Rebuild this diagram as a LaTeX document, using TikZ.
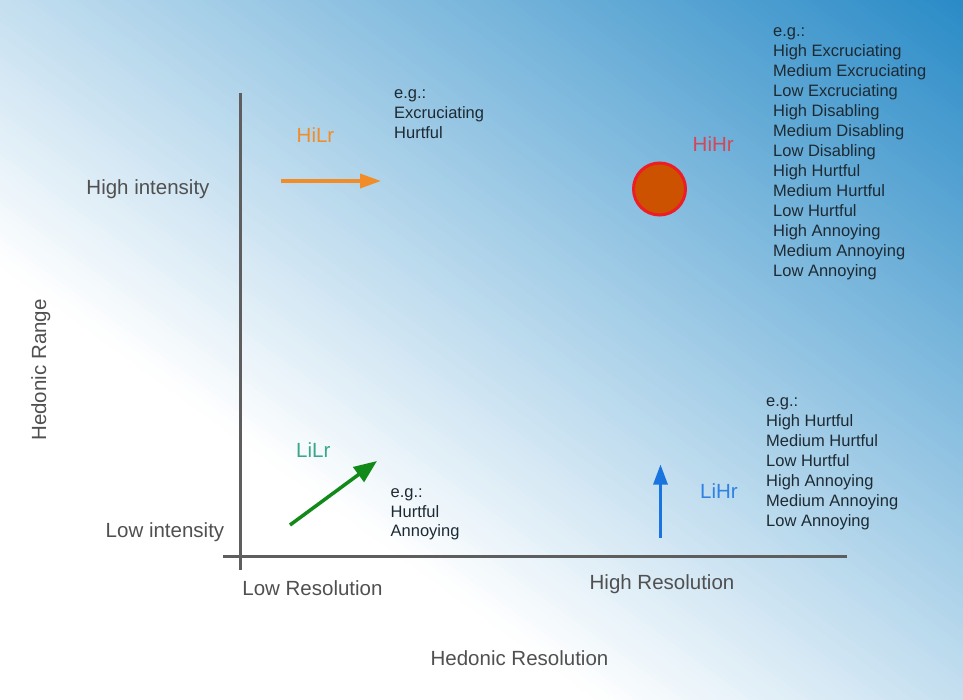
\documentclass[tikz,border=0pt]{standalone}
\usepackage{fontspec}
\setmainfont{Liberation Sans}
\usetikzlibrary{arrows.meta}

\definecolor{bgblue}{HTML}{2A8BC7}
\definecolor{axisgray}{HTML}{5E5E5E}
\definecolor{labelgray}{HTML}{505050}
\definecolor{listtext}{HTML}{1E2A33}
\definecolor{hilrorange}{HTML}{F28C28}
\definecolor{hihrred}{HTML}{D0485A}
\definecolor{lilrteal}{HTML}{3AA68C}
\definecolor{lihrblue}{HTML}{2F82E3}
\definecolor{dotfill}{HTML}{CC5200}
\definecolor{dotring}{HTML}{EE1C24}
\definecolor{arrowgreen}{HTML}{128A1A}
\definecolor{arrowblue}{HTML}{1A74E0}

\tikzset{
  axislabel/.style={font=\fontsize{20.5}{24}\selectfont, text=labelgray, inner sep=0pt, anchor=base},
  quadlabel/.style={font=\fontsize{20.5}{24}\selectfont, inner sep=0pt, anchor=base west},
  example/.style={font=\fontsize{16.5}{20}\selectfont, text=listtext, inner sep=0pt, anchor=base west},
  axis/.style={draw=axisgray, line width=3pt},
  move/.style={line width=3.5pt, ->},
}

\begin{document}
\begin{tikzpicture}[x=1pt, y=-1pt, >={Triangle[length=21pt,width=14pt]}]

\useasboundingbox (0,0) rectangle (963,700);

% background: white to blue towards the top right
\begin{scope}[x=963pt, y=-700pt]
  \fill[white] (0,0) rectangle (1,1);
  \clip (0,0) rectangle (1,1);
  \foreach \i in {0,...,137} {
    \pgfmathsetmacro\a{-0.38+0.01*\i}
    \pgfmathsetmacro\b{\a+0.014}
    \pgfmathsetmacro\p{100*(\a+0.385)/1.38}
    \fill[bgblue!\p!white] (\a,0) -- (\b,0) -- (\b+1,1) -- (\a+1,1) -- cycle;
  }
\end{scope}

% axes
\coordinate (ytop) at (240,93);
\coordinate (ybot) at (240,570);
\coordinate (xleft) at (223,556);
\coordinate (xright) at (847,556);
\draw[axis] (ybot) -- (ytop);
\draw[axis] (xleft) -- (xright);

\node[axislabel] (hi) at (148,195) {High intensity};
\node[axislabel] (lo) at (165,537) {Low intensity};
\node[axislabel] (lores) at (312.5,595) {Low Resolution};
\node[axislabel] (hires) at (662,589) {High Resolution};
\node[axislabel] (xlabel) at (519.5,665) {Hedonic Resolution};
\node[axislabel, rotate=90] (ylabel) at (46,370) {Hedonic Range};

% quadrant labels
\node[quadlabel, text=hilrorange] (hilr) at (296.5,142.7) {HiLr};
\node[quadlabel, text=hihrred] (hihr) at (692.5,151.7) {HiHr};
\node[quadlabel, text=lilrteal] (lilr) at (296,457.7) {LiLr};
\node[quadlabel, text=lihrblue] (lihr) at (700,498.3) {LiHr};

% arrows
\coordinate (hilr-s) at (281,181);
\coordinate (hilr-e) at (381,181);
\draw[move, hilrorange] (hilr-s) -- (hilr-e);

\coordinate (lilr-s) at (290,525);
\coordinate (lilr-e) at (377,461);
\draw[move, arrowgreen, >={Triangle[length=23pt,width=18pt]}] (lilr-s) -- (lilr-e);

\coordinate (lihr-s) at (660.5,537.5);
\coordinate (lihr-e) at (660.5,464.5);
\draw[move, arrowblue, line width=3pt, >={Triangle[length=20pt,width=14pt]}] (lihr-s) -- (lihr-e);

\node[circle, draw=dotring, fill=dotfill, line width=3pt, minimum size=52pt, inner sep=0pt] (dot) at (659.5,189) {};

% examples
\foreach \txt [count=\i from 0] in {e.g.:, Excruciating, Hurtful}
  \node[example] (eg-hilr-\i) at (394,98.3+20*\i) {\txt};

\foreach \txt [count=\i from 0] in {e.g.:, High Excruciating, Medium Excruciating, Low Excruciating, High Disabling, Medium Disabling, Low Disabling, High Hurtful, Medium Hurtful, Low Hurtful, High Annoying, Medium Annoying, Low Annoying}
  \node[example] (eg-hihr-\i) at (773,36.5+20*\i) {\txt};

\foreach \txt [count=\i from 0] in {e.g.:, Hurtful, Annoying}
  \node[example] (eg-lilr-\i) at (390.5,497.5+19.5*\i) {\txt};

\foreach \txt [count=\i from 0] in {e.g.:, High Hurtful, Medium Hurtful, Low Hurtful, High Annoying, Medium Annoying, Low Annoying}
  \node[example] (eg-lihr-\i) at (766,406.5+20*\i) {\txt};

\end{tikzpicture}
\end{document}
